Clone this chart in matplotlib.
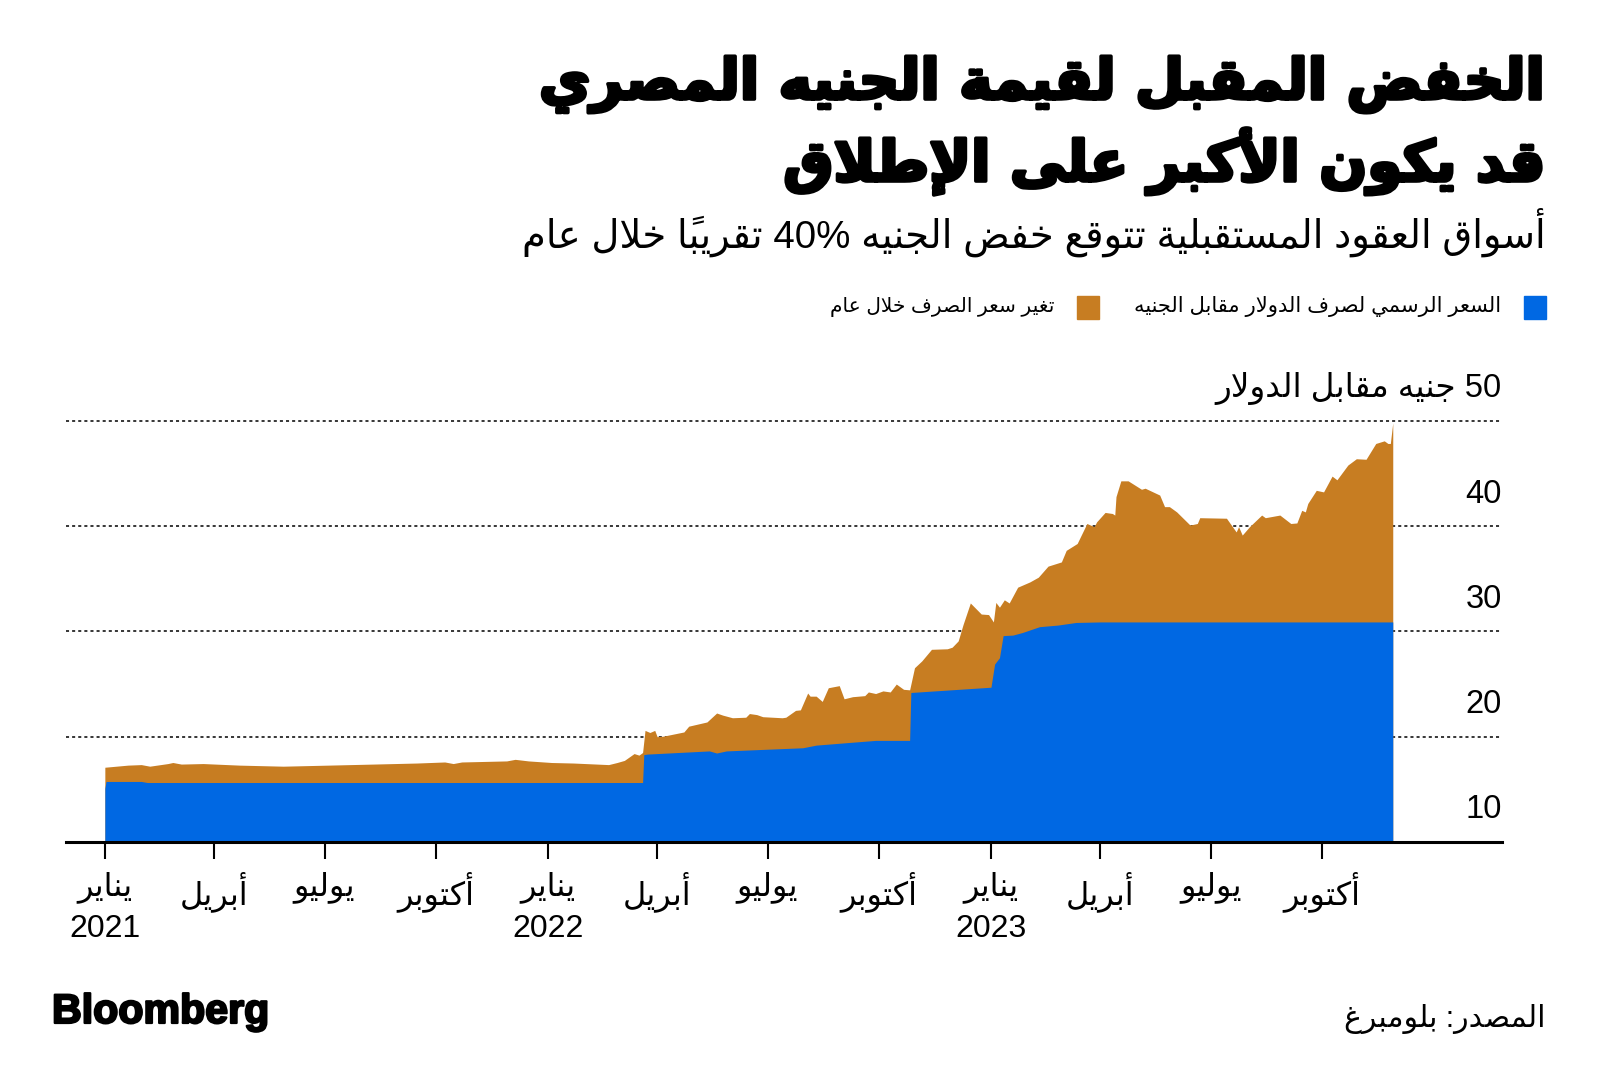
import numpy as np
import matplotlib
matplotlib.use("Agg")
import matplotlib.pyplot as plt
import matplotlib.patheffects as pe
from matplotlib.patches import Rectangle
from matplotlib.transforms import blended_transform_factory

# --- data ------------------------------------------------------------------
START = np.datetime64("2021-01-01")

# forward-implied rate in one year (top of the orange band), days since START
fwd_day = [0, 19, 30, 37, 52, 56, 63, 81, 111, 147, 184, 221, 257, 280, 287,
           294, 331, 338, 349, 368, 386, 415, 422, 428, 436, 440, 443, 445,
           449, 453, 455, 460, 477, 481, 496, 504, 509, 517, 528, 531, 537,
           542, 558, 561, 569, 573, 579, 581, 586, 591, 596, 605, 609, 616,
           626, 629, 635, 641, 647, 652, 658, 663, 667, 673, 681, 694, 698,
           703, 707, 713, 722, 728, 732, 734, 737, 741, 745, 752, 762, 769,
           777, 788, 792, 801, 809, 815, 817, 824, 830, 832, 833, 837, 843,
           854, 857, 869, 873, 877, 883, 894, 900, 902, 924, 932, 934, 937,
           943, 953, 956, 968, 977, 982, 986, 989, 991, 998, 1004, 1011, 1015,
           1024, 1031, 1039, 1047, 1054, 1057, 1059, 1061]
fwd_val = [17.1, 17.3, 17.35, 17.2, 17.45, 17.55, 17.4, 17.45, 17.3, 17.2,
           17.3, 17.4, 17.5, 17.6, 17.45, 17.6, 17.7, 17.85, 17.7, 17.55,
           17.5, 17.35, 17.55, 17.75, 18.4, 18.25, 18.5, 20.6, 20.4, 20.6,
           20.0, 20.05, 20.45, 21.0, 21.4, 22.25, 22.05, 21.8, 21.85, 22.2,
           22.1, 21.9, 21.8, 21.85, 22.5, 22.55, 24.15, 23.85, 23.85, 23.35,
           24.65, 24.85, 23.6, 23.8, 23.9, 24.25, 24.1, 24.35, 24.25, 25.0,
           24.5, 24.45, 26.55, 27.2, 28.3, 28.35, 28.5, 29.1, 30.65, 32.7,
           31.65, 31.6, 30.9, 32.75, 32.3, 33.0, 32.7, 34.2, 34.7, 35.15,
           36.2, 36.6, 37.7, 38.35, 40.25, 39.95, 40.4, 41.3, 41.2, 41.05,
           42.8, 44.3, 44.3, 43.5, 43.6, 42.95, 41.85, 41.85, 41.35, 40.1,
           40.25, 40.8, 40.75, 39.45, 39.95, 39.15, 39.95, 41.05, 40.8, 41.05,
           40.25, 40.3, 41.5, 41.35, 42.15, 43.4, 43.25, 44.75, 44.4, 45.8,
           46.4, 46.35, 47.85, 48.1, 47.85, 47.85, 49.8]

# official USD/EGP rate (blue band)
off_day = [0, 1, 30, 35, 443, 444, 447, 498, 504, 512, 575, 586, 613, 635,
           663, 664, 730, 733, 737, 740, 748, 756, 770, 785, 800, 820, 1061]
off_val = [15.1, 15.75, 15.75, 15.65, 15.65, 18.3, 18.35, 18.65, 18.45, 18.65,
           18.95, 19.2, 19.45, 19.65, 19.65, 24.2, 24.7, 26.9, 27.5, 29.6,
           29.65, 29.9, 30.45, 30.6, 30.85, 30.9, 30.9]

tick_dates = ["2021-01-01", "2021-04-01", "2021-07-01", "2021-10-01",
              "2022-01-01", "2022-04-01", "2022-07-01", "2022-10-01",
              "2023-01-01", "2023-04-01", "2023-07-01", "2023-10-01"]
tick_months = ["يناير", "أبريل", "يوليو", "أكتوبر"] * 3
tick_years = ["2021", "", "", "", "2022", "", "", "", "2023", "", "", ""]
y_levels = [10, 20, 30, 40, 50]

title_1 = "الخفض المقبل لقيمة الجنيه المصري"
title_2 = "قد يكون الأكبر على الإطلاق"
subtitle = "أسواق العقود المستقبلية تتوقع خفض الجنيه 40% تقريباً خلال عام"
leg_official = "السعر الرسمي لصرف الدولار مقابل الجنيه"
leg_change = "تغير سعر الصرف خلال عام"
unit_label = "جنيه مقابل الدولار"
source = "المصدر: بلومبرغ"

BLUE = "#0068e3"
ORANGE = "#c77d22"

# --- minimal Arabic shaping (presentation forms + visual order) ------------
AR = {'ء': (0xFE80, 1), 'آ': (0xFE81, 2), 'أ': (0xFE83, 2), 'ؤ': (0xFE85, 2),
      'إ': (0xFE87, 2), 'ئ': (0xFE89, 4), 'ا': (0xFE8D, 2), 'ب': (0xFE8F, 4),
      'ة': (0xFE93, 2), 'ت': (0xFE95, 4), 'ث': (0xFE99, 4), 'ج': (0xFE9D, 4),
      'ح': (0xFEA1, 4), 'خ': (0xFEA5, 4), 'د': (0xFEA9, 2), 'ذ': (0xFEAB, 2),
      'ر': (0xFEAD, 2), 'ز': (0xFEAF, 2), 'س': (0xFEB1, 4), 'ش': (0xFEB5, 4),
      'ص': (0xFEB9, 4), 'ض': (0xFEBD, 4), 'ط': (0xFEC1, 4), 'ظ': (0xFEC5, 4),
      'ع': (0xFEC9, 4), 'غ': (0xFECD, 4), 'ف': (0xFED1, 4), 'ق': (0xFED5, 4),
      'ك': (0xFED9, 4), 'ل': (0xFEDD, 4), 'م': (0xFEE1, 4), 'ن': (0xFEE5, 4),
      'ه': (0xFEE9, 4), 'و': (0xFEED, 2), 'ى': (0xFEEF, 2), 'ي': (0xFEF1, 4)}
LAM_ALEF = {'آ': 0xFEF5, 'أ': 0xFEF7, 'إ': 0xFEF9, 'ا': 0xFEFB}


def _jt(tok):
    c = tok[0]
    if c == 'LA':
        return 'R'
    if c in AR:
        return {4: 'D', 2: 'R', 1: 'U'}[AR[c][1]]
    if '\u064b' <= c <= '\u0652':
        return 'T'
    return 'U'


def ar(s):
    # one line of logical Arabic -> visual string of presentation forms
    toks = []
    i = 0
    while i < len(s):
        if s[i] == 'ل' and i + 1 < len(s) and s[i + 1] in LAM_ALEF:
            toks.append(('LA', s[i + 1]))
            i += 2
        else:
            toks.append((s[i], None))
            i += 1
    clusters = []
    for k, tok in enumerate(toks):
        t = _jt(tok)
        if t == 'T':
            if clusters:
                clusters[-1] += tok[0]
            else:
                clusters.append(tok[0])
            continue
        if t == 'U':
            clusters.append(tok[0])
            continue
        p = k - 1
        while p >= 0 and _jt(toks[p]) == 'T':
            p -= 1
        n = k + 1
        while n < len(toks) and _jt(toks[n]) == 'T':
            n += 1
        prev_j = p >= 0 and _jt(toks[p]) == 'D'
        next_j = t == 'D' and n < len(toks) and _jt(toks[n]) in ('D', 'R')
        if tok[0] == 'LA':
            clusters.append(chr(LAM_ALEF[tok[1]] + (1 if prev_j else 0)))
            continue
        base = AR[tok[0]][0]
        f = 3 if (prev_j and next_j) else 1 if prev_j else 2 if next_j else 0
        clusters.append(chr(base + f))
    clusters = clusters[::-1]
    # keep numbers left-to-right
    out, run = [], []
    for c in clusters:
        if c in "0123456789%":
            run.append(c)
        else:
            out.extend(run[::-1])
            run = []
            out.append(c)
    out.extend(run[::-1])
    return "".join(out)


# --- figure ----------------------------------------------------------------
W, H = 1600, 1090
fig = plt.figure(figsize=(16, 10.9), dpi=100)
FONT = ['Liberation Sans', 'DejaVu Sans']
plt.rcParams['font.family'] = FONT

ax = fig.add_axes([66 / W, 1 - 842 / H, (1502 - 66) / W, (842 - 410.3) / H])

fwd_x = START + np.array(fwd_day).astype('timedelta64[D]')
off_x = START + np.array(off_day).astype('timedelta64[D]')

ax.fill_between(fwd_x, 10, fwd_val, color=ORANGE, lw=0, zorder=2)
ax.fill_between(off_x, 10, off_val, color=BLUE, lw=0, zorder=3)

for y in y_levels[1:]:
    ax.axhline(y, color='black', lw=1.1, ls=(0, (2, 2)), zorder=1)

ax.set_xlim(START - np.timedelta64(32, 'D'), START + np.timedelta64(1151, 'D'))
ax.set_ylim(10, 51)

for s in ['left', 'right', 'top']:
    ax.spines[s].set_visible(False)
ax.spines['bottom'].set_linewidth(2.2)
ax.spines['bottom'].set_zorder(5)
ax.set_yticks([])

labels = [ar(m) + ("\n" + y if y else "") for m, y in zip(tick_months, tick_years)]
ax.set_xticks(np.array(tick_dates, dtype='datetime64[D]'))
ax.set_xticklabels(labels, fontsize=23, linespacing=1.5, va='top')
ax.tick_params(axis='x', length=12, width=1.5, pad=9, color='black')

trans = blended_transform_factory(ax.transAxes, ax.transData)
for y in y_levels:
    txt = str(y) if y != 50 else ar("50 " + unit_label)
    ax.text(1.0, y + 3.05, txt, transform=trans, ha='right', va='center',
            fontsize=23.5)


def fit(t, width):
    r = fig.canvas.get_renderer()
    for _ in range(2):
        bb = t.get_window_extent(r)
        t.set_fontsize(t.get_fontsize() * width / bb.width)


heavy = [pe.withStroke(linewidth=2.6, foreground='black')]
t1 = fig.text(1546 / W, 1 - 99 / H, ar(title_1), ha='right', va='baseline',
              fontsize=44, fontweight='bold', family='DejaVu Sans')
fit(t1, 1008)
t1.set_path_effects(heavy)
t2 = fig.text(1546 / W, 1 - 181 / H, ar(title_2), ha='right', va='baseline',
              fontsize=t1.get_fontsize(), fontweight='bold', family='DejaVu Sans',
              path_effects=heavy)
st = fig.text(1546 / W, 1 - 248 / H, ar(subtitle), ha='right', va='baseline',
              fontsize=26)
fit(st, 1023)

# legend
fig.patches.append(Rectangle((1523.5 / W, 1 - 319 / H), 22.5 / W, 23 / H,
                             transform=fig.transFigure, color=BLUE))
fig.patches.append(Rectangle((1076.5 / W, 1 - 319 / H), 22.5 / W, 23 / H,
                             transform=fig.transFigure, color=ORANGE))
l1 = fig.text(1501 / W, 1 - 307 / H, ar(leg_official), ha='right', va='center',
              fontsize=15)
fit(l1, 368)
l2 = fig.text(1055 / W, 1 - 307 / H, ar(leg_change), ha='right', va='center',
              fontsize=15)
fit(l2, 223)

bl = fig.text(52 / W, 1 - 1023 / H, "Bloomberg", ha='left', va='baseline',
              fontsize=28, fontweight='bold', family='Liberation Sans',
              path_effects=[pe.withStroke(linewidth=1.6, foreground='black')])
fit(bl, 217)
sr = fig.text(1546 / W, 1 - 1027 / H, ar(source), ha='right', va='baseline',
              fontsize=20)
fit(sr, 201)

fig.savefig("out.png", dpi=100, facecolor='white')
